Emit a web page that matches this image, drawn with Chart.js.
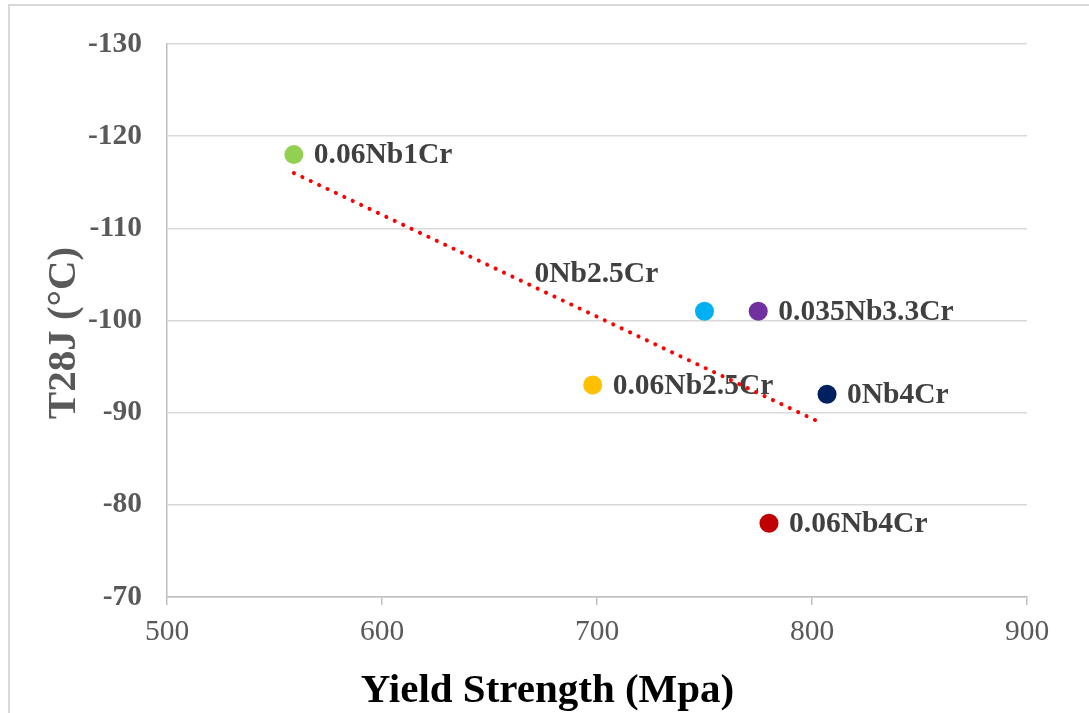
<!DOCTYPE html>
<html>
<head>
<meta charset="utf-8">
<script src="https://cdn.jsdelivr.net/npm/chart.js@4.4.1/dist/chart.umd.min.js"></script>
<style>
  html, body { margin: 0; padding: 0; background: #ffffff; }
  #wrap { width: 1089px; height: 713px; position: relative; }
</style>
</head>
<body>
<div id="wrap"><canvas id="c" width="1089" height="713"></canvas></div>
<script>
// Steel samples: yield strength (MPa) vs. 28 J transition temperature (°C)
const samples = ['0.06Nb1Cr', '0Nb2.5Cr', '0.035Nb3.3Cr', '0.06Nb2.5Cr', '0Nb4Cr', '0.06Nb4Cr'];
const yieldStrength = [559, 750, 775, 698, 807, 780];
const t28j = [-118, -101, -101, -93, -92, -78];
const sampleColors = ['#92d050', '#00b0f0', '#7030a0', '#ffc000', '#002060', '#c00000'];

// Linear trend line end points
const trendX = [559, 805];
const trendY = [-116, -88.8];

// Axis ranges and tick spacing
const xRange = [500, 900];
const xStep = 100;
const yRange = [-130, -70];
const yStep = 10;

const SERIF = "'Liberation Serif', 'Times New Roman', serif";

// Label offsets from each point (pixels); default is to the right
const labelOffset = { '0Nb2.5Cr': { dx: -170, dy: -37 } };
const defaultOffset = { dx: 20, dy: 1 };

const pointLabels = {
  id: 'pointLabels',
  beforeDatasetsDraw(chart) {
    const meta = chart.getDatasetMeta(0);
    const ctx = chart.ctx;
    ctx.save();
    ctx.font = 'bold 29.5px ' + SERIF;
    ctx.fillStyle = '#404040';
    ctx.textAlign = 'left';
    ctx.textBaseline = 'middle';
    meta.data.forEach((pt, i) => {
      const off = labelOffset[samples[i]] || defaultOffset;
      ctx.fillText(samples[i], pt.x + off.dx, pt.y + off.dy);
    });
    ctx.restore();
  }
};

const frameAndTitles = {
  id: 'frameAndTitles',
  beforeDraw(chart) {
    const ctx = chart.ctx;
    ctx.save();
    ctx.strokeStyle = '#d9d9d9';
    ctx.lineWidth = 2;
    ctx.beginPath();
    ctx.moveTo(9, chart.height);
    ctx.lineTo(9, 5);
    ctx.lineTo(chart.width, 5);
    ctx.stroke();
    ctx.restore();
  },
  afterDraw(chart) {
    const ctx = chart.ctx;
    ctx.save();
    // vertical axis title
    ctx.font = 'bold 41px ' + SERIF;
    ctx.fillStyle = '#595959';
    ctx.textAlign = 'center';
    ctx.textBaseline = 'middle';
    ctx.translate(64, 333);
    ctx.rotate(-Math.PI / 2);
    ctx.fillText('T28J (°C)', 0, 0);
    ctx.restore();

    ctx.save();
    ctx.font = 'bold 41px ' + SERIF;
    ctx.fillStyle = '#000000';
    ctx.textAlign = 'center';
    ctx.textBaseline = 'alphabetic';
    ctx.fillText('Yield Strength (Mpa)', chart.width / 2 + 3, 702);
    ctx.restore();
  }
};

new Chart(document.getElementById('c'), {
  type: 'scatter',
  data: {
    datasets: [
      {
        label: 'Samples',
        data: yieldStrength.map((x, i) => ({ x: x, y: t28j[i] })),
        pointBackgroundColor: sampleColors,
        pointBorderColor: sampleColors,
        pointRadius: 9.5,
        pointHoverRadius: 9.5,
        borderWidth: 0
      },
      {
        type: 'line',
        label: 'Trend',
        data: trendX.map((x, i) => ({ x: x, y: trendY[i] })),
        borderColor: '#ff0000',
        borderWidth: 4,
        borderDash: [0.1, 9.2],
        borderCapStyle: 'round',
        pointRadius: 0,
        fill: false,
        tension: 0
      }
    ]
  },
  options: {
    responsive: false,
    animation: false,
    devicePixelRatio: 1,
    layout: { padding: { left: 0, top: 44, right: 62, bottom: 0 } },
    plugins: {
      legend: { display: false },
      tooltip: { enabled: false },
      title: { display: false }
    },
    scales: {
      x: {
        type: 'linear',
        min: xRange[0],
        max: xRange[1],
        afterFit(scale) { scale.height = 116; },
        ticks: {
          stepSize: xStep,
          color: '#595959',
          font: { family: SERIF, size: 29.5, weight: 'normal' },
          padding: 10,
          maxRotation: 0
        },
        grid: {
          drawOnChartArea: false,
          drawTicks: true,
          tickLength: 8,
          color: '#bfbfbf',
          lineWidth: 1.5
        },
        border: { color: '#bfbfbf', width: 1.5 }
      },
      y: {
        type: 'linear',
        reverse: true,
        min: yRange[0],
        max: yRange[1],
        afterFit(scale) { scale.width = 167; },
        ticks: {
          stepSize: yStep,
          color: '#595959',
          font: { family: SERIF, size: 29.5, weight: 'bold' },
          padding: 25
        },
        grid: {
          drawTicks: false,
          color: '#d9d9d9',
          lineWidth: 1.5
        },
        border: { color: '#bfbfbf', width: 1.5 }
      }
    }
  },
  plugins: [frameAndTitles, pointLabels]
});
</script>
</body>
</html>
